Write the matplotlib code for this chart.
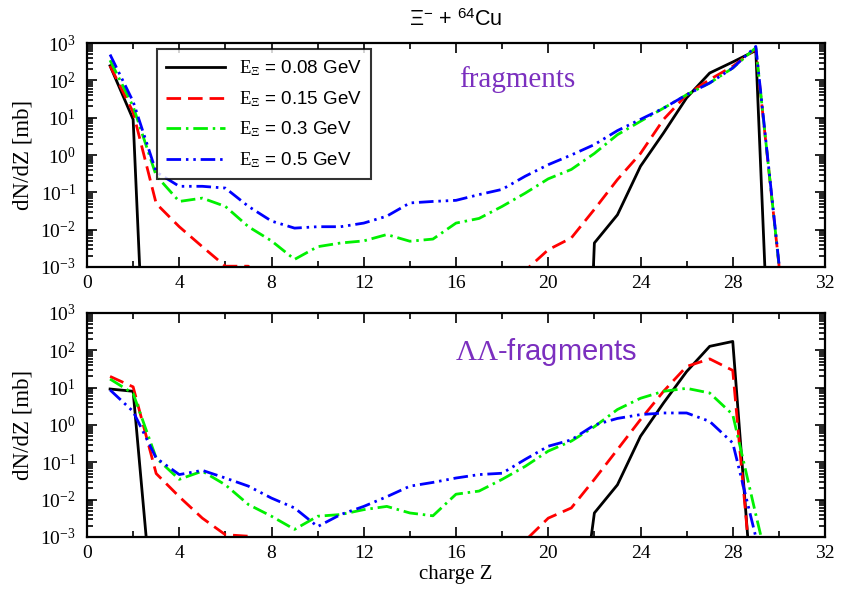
import numpy as np
import matplotlib
matplotlib.use("Agg")
import matplotlib.pyplot as plt
from matplotlib.ticker import FixedLocator, FuncFormatter, LogLocator, NullFormatter

plt.rcParams['font.family'] = ['Liberation Serif', 'DejaVu Serif']
plt.rcParams['mathtext.fontset'] = 'custom'
plt.rcParams['mathtext.rm'] = 'Liberation Serif'
plt.rcParams['mathtext.it'] = 'Liberation Serif:italic'
plt.rcParams['mathtext.sf'] = 'Liberation Sans'
plt.rcParams['lines.scale_dashes'] = False

Z = list(range(1, 32))
labels = ['0.08 GeV', '0.15 GeV', '0.3 GeV', '0.5 GeV']

# fragments (top panel), dN/dZ [mb]
frag_008 = [245, 9, 1e-13, 1e-20, 1e-20, 1e-20, 1e-20, 1e-20, 1e-20, 1e-20,
            1e-20, 1e-20, 1e-20, 1e-20, 1e-20, 1e-20, 1e-20, 1e-20, 1e-20, 1e-20,
            1e-18, 0.0044, 0.025, 0.5, 3.9, 34, 157, 310, 630, 1e-12, 1e-20]
frag_015 = [245, 14, 0.05, 0.012, 0.0035, 0.00105, 0.00105, 1e-9, 1e-12, 1e-12,
            1e-12, 1e-12, 1e-12, 1e-12, 1e-12, 1e-12, 1e-12, 1e-12, 0.0008, 0.0029,
            0.006, 0.035, 0.22, 1.1, 9, 41, 105, 237, 700, 0.0012, 1e-12]
frag_03 = [345, 20, 0.28, 0.057, 0.07, 0.042, 0.012, 0.005, 0.0016, 0.0035,
           0.0044, 0.005, 0.0074, 0.0049, 0.0056, 0.015, 0.02, 0.042, 0.095, 0.23,
           0.41, 1.1, 3.5, 8, 18, 41, 85, 214, 750, 0.0012, 1e-12]
frag_05 = [490, 27, 0.35, 0.145, 0.145, 0.13, 0.042, 0.017, 0.011, 0.012,
           0.012, 0.015, 0.023, 0.052, 0.057, 0.061, 0.087, 0.12, 0.27, 0.55,
           1.0, 1.9, 4.5, 9, 18, 41, 85, 214, 810, 0.0013, 1e-12]

# LambdaLambda-fragments (bottom panel), dN/dZ [mb]
ll_008 = [9.2, 8, 1e-6, 1e-20, 1e-20, 1e-20, 1e-20, 1e-20, 1e-20, 1e-20,
          1e-20, 1e-20, 1e-20, 1e-20, 1e-20, 1e-20, 1e-20, 1e-20, 1e-20, 1e-20,
          1e-7, 0.0044, 0.025, 0.5, 3.9, 27, 128, 173, 1.5e-6, 1e-20, 1e-20]
ll_015 = [20, 10.5, 0.05, 0.012, 0.0032, 0.00115, 0.00105, 1e-9, 1e-12, 1e-12,
          1e-12, 1e-12, 1e-12, 1e-12, 1e-12, 1e-12, 1e-12, 1e-12, 0.0008, 0.0032,
          0.006, 0.035, 0.22, 1.4, 8, 37, 59, 29, 4e-6, 1e-20, 1e-20]
ll_03 = [17, 7, 0.13, 0.035, 0.058, 0.025, 0.0074, 0.0036, 0.0016, 0.0036,
         0.004, 0.0054, 0.0066, 0.0044, 0.0037, 0.014, 0.017, 0.035, 0.078, 0.2,
         0.37, 0.9, 2.6, 5.2, 8, 9.6, 7.2, 1.9, 0.004, 1e-5, 1e-20]
ll_05 = [8.7, 2.3, 0.13, 0.047, 0.061, 0.038, 0.023, 0.011, 0.006, 0.0019,
         0.004, 0.0066, 0.012, 0.023, 0.029, 0.038, 0.047, 0.051, 0.12, 0.27,
         0.4, 1.0, 1.5, 1.9, 2.1, 2.1, 1.25, 0.33, 0.001, 1e-8, 1e-20]

colors = ['#000000', '#ff0000', '#00f000', '#0000ff']
dashes = [None, (10.5, 5.0), (10.5, 3.5, 1.8, 3.5), (10.5, 3.5, 1.8, 3.5, 1.8, 3.5)]
purple = '#7b2fbf'

fig = plt.figure(figsize=(8.41, 5.99), dpi=100)
W, H = 841.0, 599.0
ax1 = fig.add_axes([87 / W, 1 - 267 / H, 738 / W, 224 / H])
ax2 = fig.add_axes([87 / W, 1 - 537 / H, 738 / W, 224 / H])


def decade(v, pos):
    return r'$10^{%d}$' % int(round(np.log10(v)))


for ax, series in ((ax1, [frag_008, frag_015, frag_03, frag_05]),
                   (ax2, [ll_008, ll_015, ll_03, ll_05])):
    for i, ys in enumerate(series):
        ln, = ax.plot(Z, ys, color=colors[i], lw=2.0,
                      label=r'$\mathrm{E}_{\Xi}$ = ' + labels[i])
        if dashes[i] is not None:
            ln.set_dashes(dashes[i])
    ax.set_yscale('log')
    ax.set_ylim(1e-3, 1e3)
    ax.set_xlim(0, 32)
    ax.xaxis.set_major_locator(FixedLocator(range(0, 33, 4)))
    ax.xaxis.set_minor_locator(FixedLocator(range(2, 32, 4)))
    ax.yaxis.set_major_locator(LogLocator(base=10, numticks=10))
    ax.yaxis.set_minor_locator(LogLocator(base=10, subs=np.arange(2, 10), numticks=20))
    ax.yaxis.set_major_formatter(FuncFormatter(decade))
    ax.yaxis.set_minor_formatter(NullFormatter())
    ax.tick_params(which='both', direction='in', top=True, right=True, width=1.2,
                   labelsize=14)
    ax.tick_params(which='major', length=7, pad=6)
    ax.tick_params(which='minor', length=4)
    ax.tick_params(axis='y', which='major', pad=8)
    for sp in ax.spines.values():
        sp.set_linewidth(1.6)
    ax.set_ylabel('dN/dZ [mb]', fontsize=16.5, labelpad=5)

leg = ax1.legend(handles=ax1.get_lines(), loc='upper left', bbox_to_anchor=(0.095, 0.972),
                 prop={'family': ['Liberation Sans', 'DejaVu Sans'], 'size': 13.5},
                 frameon=True, fancybox=False, handlelength=3.1, handletextpad=0.75,
                 labelspacing=0.58, borderpad=0.5, borderaxespad=0.0)
leg.get_frame().set_edgecolor('black')
leg.get_frame().set_linewidth(1.5)

ax1.text(0.583, 0.835, 'fragments', transform=ax1.transAxes, color=purple,
         fontsize=21, ha='center', va='center', family='Liberation Serif')
ax2.text(0.622, 0.826, r'$\Lambda\Lambda$-fragments', transform=ax2.transAxes,
         color=purple, fontsize=21, ha='center', va='center',
         family=['Liberation Sans', 'DejaVu Sans'])

fig.text(456 / W, 1 - 20 / H, r'$\mathsf{\Xi}^{\mathsf{-}}$ + $^{\mathsf{64}}$Cu',
         fontsize=15.5, ha='center', va='center', family=['Liberation Sans', 'DejaVu Sans'])
ax2.set_xlabel('charge Z', fontsize=15, labelpad=2)

fig.savefig('out.png', dpi=100)
